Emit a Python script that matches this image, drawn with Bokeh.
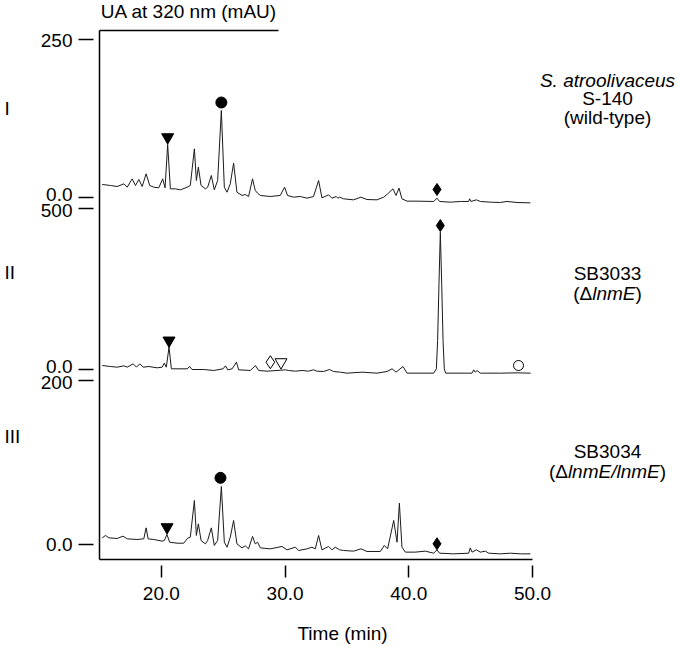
from bokeh.plotting import figure
from bokeh.models import Range1d, LinearAxis, FixedTicker, Label, PrintfTickFormatter
from bokeh.embed import file_html
from bokeh.resources import INLINE

# ---------------- data ----------------
# Trace I : S. atroolivaceus S-140 (wild-type), mAU vs min
t1 = [15.22, 15.89, 16.43, 16.97, 17.24, 17.64, 17.91, 18.18, 18.45, 18.77, 19.06, 19.39, 19.79, 20.11,
      20.30, 20.51, 20.73, 21.13, 21.54, 22.08, 22.34, 22.67, 22.83, 22.99, 23.21, 23.56, 23.74, 24.04,
      24.28, 24.55, 24.85, 25.09, 25.31, 25.57, 25.84, 26.11, 26.52, 26.78, 27.05, 27.37, 27.59, 27.78,
      28.00, 28.81, 29.61, 29.96, 30.20, 30.69, 31.23, 31.77, 32.30, 32.71, 32.98, 33.52, 33.79, 34.14,
      34.27, 34.41, 34.73, 35.54, 36.13, 36.62, 37.43, 37.97, 38.29, 38.72, 38.97, 39.21, 39.45, 39.86,
      40.67, 42.01, 42.28, 42.49, 43.36, 44.17, 44.84, 44.92, 45.03, 45.46, 45.79, 46.60, 47.40, 47.94,
      48.75, 49.83]
v1 = [20.6, 19.0, 17.4, 21.6, 16.3, 29.5, 19.0, 28.5, 17.4, 37.5, 19.0, 16.3, 15.3, 29.5,
      15.3, 83.9, 13.7, 13.7, 12.1, 16.3, 19.0, 77.0, 26.9, 48.0, 19.0, 13.7, 16.3, 34.8,
      12.1, 26.9, 137.7, 16.3, 8.4, 21.6, 54.3, 8.4, 3.2, 4.7, 1.6, 29.5, 11.1, 6.8,
      3.2, 1.6, 3.2, 16.3, 3.2, 0.5, 1.6, -1.1, 1.6, 26.9, -0.5, 4.2, -1.1, 1.6,
      -1.1, 0.5, -2.1, -3.7, 0.5, -3.2, -3.7, 0.5, 5.8, 13.7, 3.2, 14.8, -2.1, -5.8,
      -5.8, -6.3, -1.1, -6.3, -7.4, -6.3, -6.3, -2.1, -6.3, -3.7, -6.3, -7.4, -7.9, -6.3,
      -7.9, -8.5]

# Trace II : SB3033 (delta lnmE)
t2 = [15.22, 15.89, 16.43, 16.97, 17.24, 17.72, 17.99, 18.26, 18.53, 18.99, 19.66, 20.06, 20.24, 20.40,
      20.62, 20.81, 21.27, 22.08, 22.29, 22.48, 23.42, 24.23, 24.99, 25.18, 25.37, 25.72, 26.07, 26.25,
      27.20, 27.60, 27.87, 28.54, 29.35, 30.02, 30.29, 30.83, 31.37, 31.90, 32.30, 32.57, 33.11, 33.60,
      33.91, 34.47, 35.01, 36.22, 37.43, 38.24, 38.65, 38.97, 39.53, 39.86, 40.67, 42.01, 42.23, 42.33,
      42.44, 42.55, 42.66, 42.77, 42.87, 42.98, 43.90, 45.11, 45.25, 45.38, 45.52, 45.79, 47.40, 48.75,
      49.85]
v2 = [12.4, 9.3, 7.2, 11.4, 7.2, 17.6, 7.2, 17.6, 7.2, 9.3, 5.2, 7.2, 19.7, 7.2,
      69.3, 2.1, 2.1, 2.1, 9.3, 0.0, 0.0, -3.1, 2.1, 11.4, -1.0, 2.1, 22.8, -1.0,
      -3.1, 12.4, -3.1, -5.2, -3.1, -1.0, -3.1, -5.2, -3.1, -5.2, -1.0, -5.2, -6.2, 0.0,
      -6.2, -8.3, -11.4, -8.3, -11.4, -6.2, 2.1, -8.3, 9.3, -11.4, -11.4, -11.4, 2.1, 90.0,
      266.0, 426.0, 266.0, 90.0, 2.1, -11.4, -11.4, -11.4, -1.0, -8.3, -3.1, -11.4, -11.4, -10.4,
      -11.4]

# Trace III : SB3034 (delta lnmE / lnmE)
t3 = [15.22, 15.49, 15.76, 16.43, 16.90, 17.24, 18.04, 18.58, 18.77, 18.93, 19.39, 20.06, 20.24, 20.45,
      20.67, 21.27, 21.81, 22.13, 22.34, 22.67, 22.83, 22.99, 23.21, 23.56, 23.74, 24.04, 24.28, 24.55,
      24.85, 25.09, 25.31, 25.57, 25.84, 26.11, 26.52, 26.78, 27.05, 27.37, 27.59, 27.78, 28.00, 28.81,
      29.75, 30.16, 30.83, 31.10, 31.77, 32.17, 32.44, 32.71, 32.98, 33.52, 33.79, 34.06, 34.41, 34.73,
      35.54, 36.13, 36.62, 37.70, 38.02, 38.29, 38.78, 39.05, 39.24, 39.45, 39.72, 40.53, 41.34, 42.01,
      42.28, 42.49, 43.63, 44.84, 44.97, 45.11, 45.46, 45.79, 46.19, 46.46, 47.40, 48.21, 49.02, 49.83]
v3 = [8.1, 11.0, 8.1, 7.3, 10.2, 6.9, 6.1, 6.9, 20.3, 6.9, 6.1, 4.1, 4.9, 12.2,
      2.8, 1.6, 1.6, 7.7, 8.9, 53.7, 11.0, 25.2, 4.9, 0.8, 4.9, 20.3, -1.2, 4.9,
      70.7, 2.8, -3.3, 8.9, 29.3, 0.8, -4.1, -1.6, -5.3, 9.8, 0.8, 2.8, -4.1, -5.3,
      -2.4, -6.5, -3.3, -7.3, -5.3, -3.3, -5.3, 11.0, -6.5, -2.4, -6.5, -3.3, -6.5, -7.3,
      -8.1, -5.3, -8.5, -8.5, -1.2, -5.3, 29.3, 2.8, 50.4, -3.3, -9.3, -9.3, -8.1, -10.6,
      -6.5, -10.6, -11.4, -10.6, -4.1, -9.3, -6.5, -9.3, -8.1, -10.6, -11.4, -10.6, -11.4, -11.4]

# peak markers (time, mAU) per trace
tri1_t, tri1_v = [20.51], [95.4]
dot1_t, dot1_v = [24.85], [150.3]
dia1_t, dia1_v = [42.28], [12.7]
tri2_t, tri2_v = [20.62], [90.0]
dia2_t, dia2_v = [42.55], [447.0]
odia2_t, odia2_v = [28.81], [22.7]
otri2_t, otri2_v = [29.67], [22.7]
ocir2_t, ocir2_v = [48.87], [12.4]
tri3_t, tri3_v = [20.46], [21.1]
dot3_t, dot3_v = [24.78], [81.3]
dia3_t, dia3_v = [42.28], [0.9]

x_ticks = [20, 30, 40, 50]
panel_tops = [250, 500, 200]
y_tick_labels = ["250", "0.0", "500", "0.0", "200", "0.0"]

# ---------------- layout (all in canvas pixels) ----------------
FONT = "Liberation Sans"
FS = "19px"
INK = "#1a1a1a"

W, H = 677, 647
AX_L, AX_R = 99.0, 532.0        # x pixel of 15 min and 50 min
AX_TOP, AX_BOT = 30.0, 559.0    # top line and bottom axis line
X0, X1 = 15.0, 50.0
PX_PER_MIN = (AX_R - AX_L) / (X1 - X0)


def dx(px):
    """canvas px -> minutes"""
    return X0 + (px - AX_L) / PX_PER_MIN


def dy(py):
    """canvas px -> px above canvas bottom (primary range units)"""
    return H - py


# (zero line, top tick) canvas y of each stacked panel
panel_px = [(197, 39), (369, 208), (544, 380)]


def panel_range(zero_py, top_py, top_val):
    z, tp = dy(zero_py), dy(top_py)
    s = (tp - z) / top_val
    return Range1d(-z / s, (H - z) / s)


p = figure(width=W, height=H, x_range=Range1d(dx(0), dx(W)), y_range=Range1d(0, H),
           output_backend="svg", toolbar_location=None,
           x_axis_location=None, y_axis_location=None,
           min_border=0, min_border_left=0, min_border_right=0,
           min_border_top=0, min_border_bottom=0,
           background_fill_color="white", border_fill_color="white")
p.outline_line_color = None
p.grid.visible = False

names = ["p1", "p2", "p3"]
p.extra_y_ranges = {n: panel_range(z, t, v) for n, (z, t), v in zip(names, panel_px, panel_tops)}

# left axis: ticks only (labels placed separately so close pairs don't collide)
tick_pos = []
for z, t in panel_px:
    tick_pos += [dy(t), dy(z)]
yax = LinearAxis(fixed_location=X0, bounds=(dy(AX_BOT), dy(AX_TOP)),
                 ticker=FixedTicker(ticks=tick_pos), major_label_text_color=None,
                 axis_line_width=1.5, axis_line_color="black",
                 major_tick_line_width=1.5, major_tick_in=-6, major_tick_out=21,
                 minor_tick_line_color=None)
p.add_layout(yax, "left")

xax = LinearAxis(fixed_location=dy(AX_BOT), bounds=(X0, X1),
                 ticker=FixedTicker(ticks=x_ticks), formatter=PrintfTickFormatter(format="%.1f"),
                 axis_line_width=1.5, axis_line_color="black",
                 major_tick_line_width=1.5, major_tick_in=-6, major_tick_out=18,
                 minor_tick_line_color=None, major_label_standoff=9,
                 major_label_text_font=FONT, major_label_text_font_size=FS,
                 major_label_text_color="black")
p.add_layout(xax, "below")

top = LinearAxis(fixed_location=dy(AX_TOP), bounds=(X0, dx(278)),
                 ticker=FixedTicker(ticks=[]),
                 axis_line_width=1.5, axis_line_color="black",
                 major_tick_line_color=None, minor_tick_line_color=None,
                 major_label_text_color=None)
p.add_layout(top, "above")

# traces
for n, (tt, vv) in zip(names, [(t1, v1), (t2, v2), (t3, v3)]):
    p.line(tt, vv, y_range_name=n, line_color=INK, line_width=1)


# markers
def mk(xs, ys, rn, marker, size, filled=True):
    p.scatter(xs, ys, y_range_name=rn, marker=marker, size=size,
              fill_color="black" if filled else "white", line_color="black", line_width=1)


mk(tri1_t, tri1_v, "p1", "inverted_triangle", 12)
mk(dot1_t, dot1_v, "p1", "circle", 11)
mk(dia1_t, dia1_v, "p1", "diamond", 12)
mk(tri2_t, tri2_v, "p2", "inverted_triangle", 12)
mk(dia2_t, dia2_v, "p2", "diamond", 12)
mk(odia2_t, odia2_v, "p2", "diamond", 13, filled=False)
mk(otri2_t, otri2_v, "p2", "inverted_triangle", 12, filled=False)
mk(ocir2_t, ocir2_v, "p2", "circle", 10, filled=False)
mk(tri3_t, tri3_v, "p3", "inverted_triangle", 12)
mk(dot3_t, dot3_v, "p3", "circle", 11)
mk(dia3_t, dia3_v, "p3", "diamond", 12)


def lab(text, px, py, align="center", style="normal"):
    p.add_layout(Label(x=dx(px), y=dy(py), text=text, text_align=align, text_baseline="middle",
                       text_font=FONT, text_font_size=FS, text_font_style=style, text_color="black"))


# y tick labels (nudged apart where two ticks are close)
nudge = [0.5, -3, 1.5, -3, 1.5, 0]
for lbl, pos_py, nd in zip(y_tick_labels, [39, 197, 208, 369, 380, 544], nudge):
    lab(lbl, 72, pos_py + nd, align="right")

lab("UA at 320 nm (mAU)", 188.5, 11)
lab("Time (min)", 342, 633)

lab("I", 4, 107.5, align="left")
lab("II", 4, 272, align="left")
lab("III", 4, 436, align="left")

lab("S. atroolivaceus", 607, 80, style="italic")
lab("S-140", 607, 98)
lab("(wild-type)", 607, 117)

lab("SB3033", 607, 273)
lab("(\u0394", 591.7, 293, align="right")
lab("lnmE", 591.7, 293, align="left", style="italic")
lab(")", 635.0, 293, align="left")

lab("SB3034", 607, 451)
lab("(\u0394", 567.4, 471, align="right")
lab("lnmE/lnmE", 567.4, 471, align="left", style="italic")
lab(")", 659.2, 471, align="left")

open("out.html", "w").write(file_html(p, INLINE))
